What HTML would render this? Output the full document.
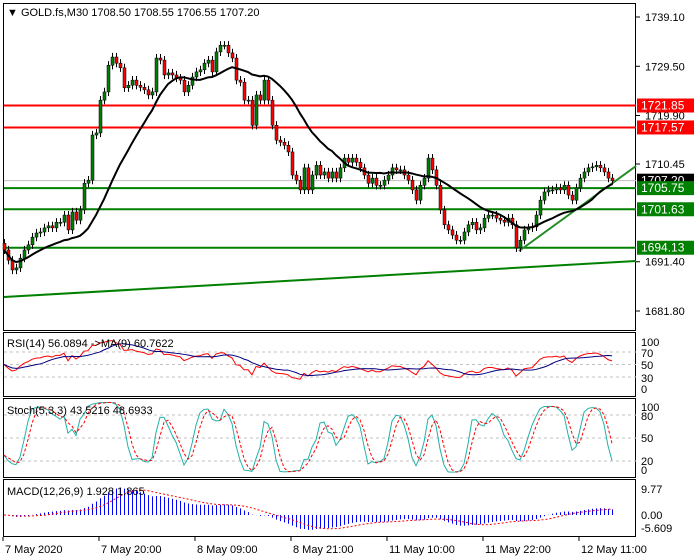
<!DOCTYPE html>
<html><head><meta charset="utf-8"><style>
html,body{margin:0;padding:0;background:#fff;}
svg{display:block;font-family:"Liberation Sans",sans-serif;font-size:11px;}
</style></head><body>
<svg id="c" width="700" height="560" xmlns="http://www.w3.org/2000/svg"></svg>
<script>
const closes=[1693.7,1691.7,1689.8,1690.2,1692.1,1693.7,1694.7,1696.2,1697.0,1697.2,1698.0,1698.4,1698.0,1699.1,1699.1,1700.5,1697.6,1701.1,1699.5,1701.5,1706.7,1707.3,1716.1,1716.5,1722.9,1724.5,1729.7,1731.3,1730.1,1729.2,1725.3,1725.8,1726.8,1725.8,1725.4,1724.9,1723.9,1724.5,1731.1,1730.7,1727.8,1728.2,1727.8,1727.2,1726.8,1724.5,1725.8,1727.4,1728.4,1728.8,1730.1,1730.7,1728.4,1732.3,1733.6,1733.6,1732.1,1731.1,1726.8,1726.4,1722.9,1722.9,1718.0,1723.9,1722.9,1726.8,1722.9,1718.0,1715.1,1714.7,1714.1,1712.8,1708.3,1707.3,1705.4,1709.7,1705.4,1708.3,1710.2,1708.3,1708.9,1707.7,1708.9,1707.7,1709.7,1711.6,1710.8,1711.6,1710.8,1709.7,1708.3,1706.7,1707.7,1706.3,1706.3,1707.3,1708.3,1709.7,1709.3,1709.3,1708.3,1707.3,1705.4,1703.4,1706.3,1707.7,1711.6,1709.3,1706.3,1701.5,1698.6,1697.6,1696.6,1695.6,1695.6,1697.2,1698.6,1699.1,1697.6,1698.0,1699.9,1700.5,1700.5,1699.9,1699.5,1699.1,1699.9,1698.6,1694.1,1695.6,1697.6,1698.0,1698.2,1700.5,1703.4,1705.0,1705.4,1705.4,1705.8,1705.4,1706.3,1704.4,1703.4,1705.8,1707.7,1708.9,1709.7,1709.9,1710.2,1709.7,1708.9,1707.7,1707.2];
const levelsRed=[1721.85,1717.57];
const levelsGreen=[1705.75,1701.63,1694.13];
const priceTicks=[1739.10,1729.50,1719.90,1710.45,1691.40,1681.80];
const timeLabels=["7 May 2020","7 May 20:00","8 May 09:00","8 May 21:00","11 May 10:00","11 May 22:00","12 May 11:00"];
const timeLabelBars=[0,24,48,72,96,120,144];

const NS="http://www.w3.org/2000/svg";
const svg=document.getElementById('c');
function el(t,a,p){const e=document.createElementNS(NS,t);for(const k in a)e.setAttribute(k,a[k]);(p||svg).appendChild(e);return e;}
const X=i=>4+4*i;
const PY=p=>17+(1739.1-p)*5.131;
const RY=v=>395.75-0.625*v;
const SY=v=>476.3-0.767*v;
const MY=v=>515-3.0*v;
const n=closes.length;
const opens=closes.map((c,i)=>i?closes[i-1]:1695.0);
const highs=closes.map((c,i)=>Math.max(c,opens[i])+0.8);
const lows=closes.map((c,i)=>Math.min(c,opens[i])-0.8);

let g=el('g',{});


el('rect',{x:3.5,y:3.5,width:632,height:327,fill:'none',stroke:'#000'},g);
el('rect',{x:3.5,y:332.5,width:632,height:64,fill:'none',stroke:'#000'},g);
el('rect',{x:3.5,y:398.5,width:632,height:79,fill:'none',stroke:'#000'},g);
el('rect',{x:3.5,y:479.5,width:632,height:57,fill:'none',stroke:'#000'},g);

priceTicks.forEach(p=>{
 const t=el('text',{x:645,y:PY(p)+4,fill:'#000'});t.textContent=p.toFixed(2);
 
 
 el('line',{x1:636,x2:640,y1:PY(p),y2:PY(p),stroke:'#000'});
});
el('line',{x1:4,x2:636,y1:PY(1707.2),y2:PY(1707.2),stroke:'#c0c0c0'});
levelsRed.forEach(p=>{
 const l=el('line',{x1:4,x2:636,y1:PY(p),y2:PY(p),stroke:'#ff0000','stroke-width':2});
 
 
});
levelsGreen.forEach(p=>{
 const l=el('line',{x1:4,x2:636,y1:PY(p),y2:PY(p),stroke:'#008000','stroke-width':2});
 
 
});
let tl=el('line',{x1:4,y1:297,x2:636,y2:261,stroke:'#008000','stroke-width':2});


tl=el('line',{x1:519,y1:251,x2:636,y2:166,stroke:'#228b22','stroke-width':2});



for(let i=0;i<n;i++){
 const up=closes[i]>=opens[i];
 const cg=el('g',{});
 
 
 el('line',{x1:X(i)+0.5,x2:X(i)+0.5,y1:PY(highs[i]),y2:PY(lows[i]),stroke:'#000'},cg);
 const yt=PY(Math.max(closes[i],opens[i])),yb=PY(Math.min(closes[i],opens[i]));
 el('rect',{x:X(i)-1,y:yt,width:3,height:Math.max(1,yb-yt),fill:up?'#008000':'#ff0000',stroke:'#000','stroke-width':0.5},cg);
}
const ma=closes.map((c,i)=>{const s=Math.max(0,i-19);const a=closes.slice(s,i+1);return a.reduce((x,y)=>x+y,0)/a.length;});
let pm=el('polyline',{points:ma.map((v,i)=>X(i)+','+PY(v)).join(' '),fill:'none',stroke:'#000','stroke-width':2});



function box(p,txt,bg,fg){
 const bgRect=el('rect',{x:637,y:PY(p)-7,width:57,height:14,fill:bg});
 
 
 const t=el('text',{x:641,y:PY(p)+4,fill:fg,'font-size':12});t.textContent=txt;
 
 
}
box(1707.2,'1707.20','#000','#fff');
levelsRed.forEach(p=>box(p,p.toFixed(2),'#ff0000','#fff'));
levelsGreen.forEach(p=>box(p,p.toFixed(2),'#008000','#fff'));

let tt=el('text',{x:7,y:16,fill:'#000'});tt.textContent='\u25BC GOLD.fs,M30  1708.50 1708.55 1706.55 1707.20';



// RSI
const rsi=[];let ag=0.6,al=0.6;
for(let i=0;i<n;i++){if(i==0){rsi.push(50);continue;}const d=closes[i]-closes[i-1];const gn=Math.max(d,0),ls=Math.max(-d,0);
 ag=(ag*13+gn)/14;al=(al*13+ls)/14;
 rsi.push(al==0?100:100-100/(1+ag/al));}
const rsiMa=rsi.map((v,i)=>{const a=rsi.slice(Math.max(0,i-8),i+1);return a.reduce((x,y)=>x+y,0)/a.length;});
[70,50,30].forEach(v=>el('line',{x1:4,x2:636,y1:RY(v),y2:RY(v),stroke:'#c0c0c0','stroke-dasharray':'3,3'}));
[[100,346],[70,357],[50,369],[30,382],[0,393]].forEach(([v,y])=>{const t=el('text',{x:641,y:y});t.textContent=v;
 });
let rl=el('polyline',{points:rsi.map((v,i)=>X(i)+','+RY(v)).join(' '),fill:'none',stroke:'#ff0000'});

rl=el('polyline',{points:rsiMa.map((v,i)=>X(i)+','+RY(v)).join(' '),fill:'none',stroke:'#000080'});

tt=el('text',{x:7,y:347});tt.textContent='RSI(14) 56.0894  ->MA(9) 60.7622';


// Stoch
const raw=closes.map((c,i)=>{const s=Math.max(0,i-4);const h=Math.max(...highs.slice(s,i+1)),l=Math.min(...lows.slice(s,i+1));return [c-l,h-l];});
const K=raw.map((r,i)=>{let a=0,b=0;for(let j=Math.max(0,i-2);j<=i;j++){a+=raw[j][0];b+=raw[j][1];}return b?100*a/b:50;});
const D=K.map((v,i)=>{const a=K.slice(Math.max(0,i-2),i+1);return a.reduce((x,y)=>x+y,0)/a.length;});
[80,50,20].forEach(v=>el('line',{x1:4,x2:636,y1:SY(v),y2:SY(v),stroke:'#c0c0c0','stroke-dasharray':'3,3'}));
[[100,411],[80,420],[50,442],[20,465],[0,474]].forEach(([v,y])=>{const t=el('text',{x:641,y:y});t.textContent=v;
 });
let sl=el('polyline',{points:K.map((v,i)=>X(i)+','+SY(v)).join(' '),fill:'none',stroke:'#20b2aa'});

sl=el('polyline',{points:D.map((v,i)=>X(i)+','+SY(v)).join(' '),fill:'none',stroke:'#ff0000','stroke-dasharray':'3,2'});

tt=el('text',{x:7,y:414});tt.textContent='Stoch(5,3,3) 43.5216 48.6933';


// MACD
function ema(a,p){const k=2/(p+1);const o=[];a.forEach((v,i)=>o.push(i?v*k+o[i-1]*(1-k):v));return o;}
const e12=ema(closes,12),e26=ema(closes,26);
const macd=e12.map((v,i)=>v-e26[i]);
const sig=macd.map((v,i)=>{const a=macd.slice(Math.max(0,i-8),i+1);return a.reduce((x,y)=>x+y,0)/a.length;});
for(let i=0;i<n;i++){const b=el('line',{x1:X(i)+0.5,x2:X(i)+0.5,y1:MY(0),y2:Math.max(481,Math.min(535,MY(macd[i]))),stroke:'#0000ff'});
 }
let ml=el('polyline',{points:sig.map((v,i)=>X(i)+','+MY(v)).join(' '),fill:'none',stroke:'#ff0000','stroke-dasharray':'2,2'});

[['9.77',493],['0.00',519],['-5.609',532]].forEach(([s,y])=>{const t=el('text',{x:641,y:y});t.textContent=s;
 });
tt=el('text',{x:7,y:495});tt.textContent='MACD(12,26,9) 1.928 1.865';


timeLabels.forEach((s,k)=>{const x=X(timeLabelBars[k])-2;
 el('line',{x1:x+1,x2:x+1,y1:537,y2:541,stroke:'#000'});
 const t=el('text',{x:x+3,y:553});t.textContent=s;
 });
</script>
</body></html>
